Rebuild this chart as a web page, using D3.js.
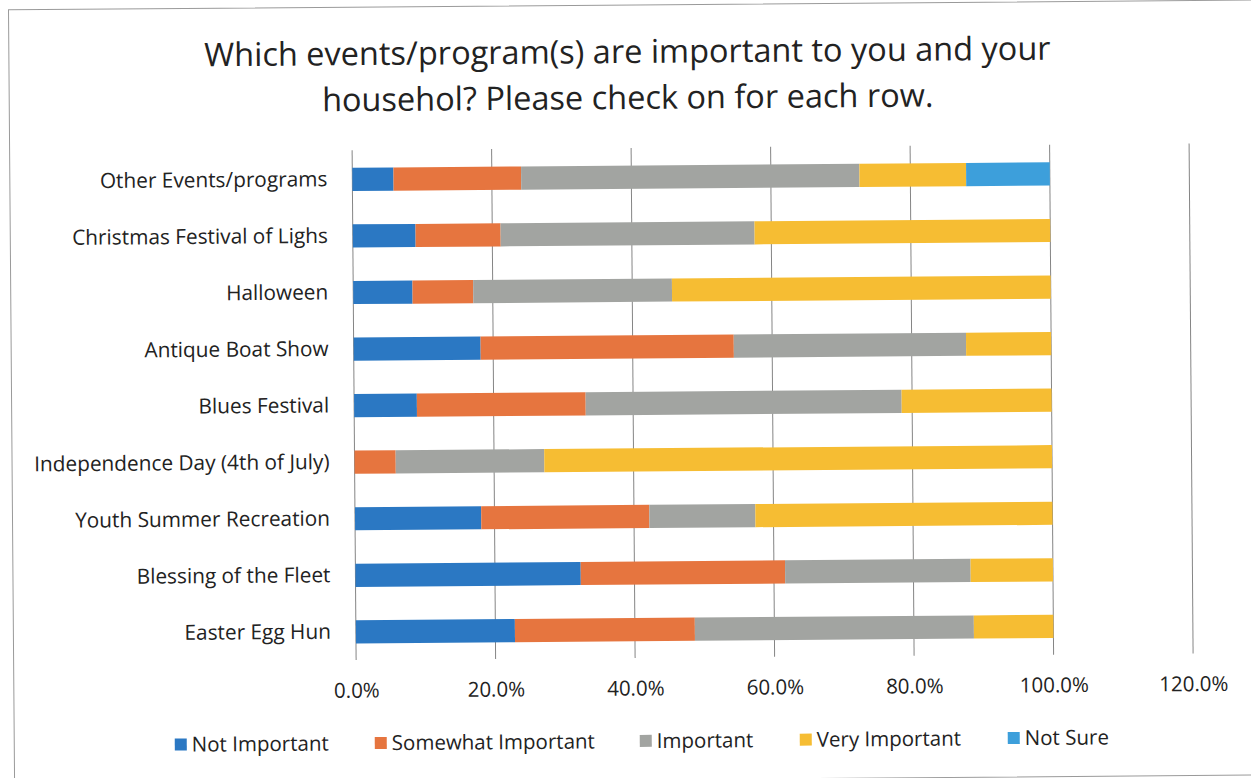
<!DOCTYPE html>
<html>
<head>
<meta charset="utf-8">
<script src="https://cdn.jsdelivr.net/npm/d3@7"></script>
<style>
  html, body { margin: 0; padding: 0; background: #fff; }
  svg { display: block; }
  text { font-family: "Open Sans", Lato, sans-serif; fill: #222; }
</style>
</head>
<body>
<svg id="chart" width="1251" height="778"></svg>
<script>
// Survey rows, listed top to bottom as drawn
const categories = [
  "Other Events/programs",
  "Christmas Festival of Lighs",
  "Halloween",
  "Antique Boat Show",
  "Blues Festival",
  "Independence Day (4th of July)",
  "Youth Summer Recreation",
  "Blessing of the Fleet",
  "Easter Egg Hun"
];

const seriesNames = ["Not Important", "Somewhat Important", "Important", "Very Important", "Not Sure"];

// Share of responses per row (fractions), one array per answer
const notImportant      = [0.059, 0.090, 0.085, 0.182, 0.090, 0.000, 0.181, 0.323, 0.228];
const somewhatImportant = [0.183, 0.122, 0.087, 0.363, 0.242, 0.059, 0.241, 0.293, 0.258];
const important         = [0.485, 0.364, 0.285, 0.333, 0.453, 0.213, 0.152, 0.266, 0.400];
const veryImportant     = [0.153, 0.424, 0.543, 0.122, 0.215, 0.728, 0.426, 0.118, 0.114];
const notSure           = [0.120, 0.000, 0.000, 0.000, 0.000, 0.000, 0.000, 0.000, 0.000];

const tickValues = [0, 0.2, 0.4, 0.6, 0.8, 1.0, 1.2];

const colors = ["#2b78c3", "#e6753f", "#a2a4a1", "#f6bd33", "#3d9fdb"];

const titleLines = [
  "Which events/program(s) are important to you and your",
  "househol? Please check on for each row."
];

// Build the table the stack layout needs
const seriesArrays = [notImportant, somewhatImportant, important, veryImportant, notSure];
const rows = categories.map((c, i) => {
  const r = { category: c };
  seriesNames.forEach((s, k) => { r[s] = seriesArrays[k][i]; });
  return r;
});

const svg = d3.select("#chart");
// Whole sheet sits very slightly tilted
const g = svg.append("g").attr("transform", "rotate(-0.45, 625, 389)");

// Outer chart frame (left, top and bottom edges fall inside the view)
g.append("path")
  .attr("d", "M1300,5 L11.5,5 L11.5,780 L1300,780")
  .attr("fill", "none").attr("stroke", "#9a9a9a").attr("stroke-width", 1);

const x = d3.scaleLinear().domain([0, 1.2]).range([354, 1191]);
const y = d3.scaleBand().domain(categories).range([149, 658])
  .paddingInner(0.59).paddingOuter(0.295);

// Title
g.append("text")
  .attr("x", 630).attr("text-anchor", "middle")
  .attr("font-size", 32.5)
  .selectAll("tspan").data(titleLines).join("tspan")
  .attr("x", 630)
  .attr("y", (d, i) => 63 + i * 46)
  .text(d => d);

// Vertical gridlines
g.append("g").selectAll("line").data(tickValues).join("line")
  .attr("x1", d => x(d)).attr("x2", d => x(d))
  .attr("y1", 148).attr("y2", 658)
  .attr("stroke", "#858585").attr("stroke-width", 1);

// Stacked bars
const stack = d3.stack().keys(seriesNames);
const layers = stack(rows);

g.append("g").selectAll("g").data(layers).join("g")
  .attr("fill", (d, i) => colors[i])
  .selectAll("rect").data(d => d).join("rect")
  .attr("x", d => x(d[0]))
  .attr("y", d => y(d.data.category))
  .attr("width", d => Math.max(0, x(d[1]) - x(d[0])))
  .attr("height", y.bandwidth());

// Category axis
const yAxis = g.append("g")
  .attr("transform", `translate(${x(0)},0)`)
  .call(d3.axisLeft(y).tickSize(0).tickPadding(25));
yAxis.select(".domain").remove();
yAxis.selectAll("text").attr("font-size", 20.8).attr("font-family", "'Open Sans', sans-serif").attr("fill", "#222");

// Percentage axis
const xAxis = g.append("g")
  .attr("transform", "translate(0,658)")
  .call(d3.axisBottom(x).tickValues(tickValues).tickFormat(d3.format(".1%")).tickSize(0).tickPadding(23));
xAxis.select(".domain").remove();
xAxis.selectAll("text").attr("font-size", 20.5).attr("font-family", "'Open Sans', sans-serif").attr("fill", "#222");

// Legend
const legendX = [172, 372, 637, 797, 1005];
const legend = g.append("g").selectAll("g").data(seriesNames).join("g")
  .attr("transform", (d, i) => `translate(${legendX[i]},741)`);
legend.append("rect")
  .attr("x", 0).attr("y", -6).attr("width", 12).attr("height", 12)
  .attr("fill", (d, i) => colors[i]);
legend.append("text")
  .attr("x", 17).attr("y", 0).attr("dy", "0.35em")
  .attr("font-size", 20.5)
  .text(d => d);
</script>
</body>
</html>
